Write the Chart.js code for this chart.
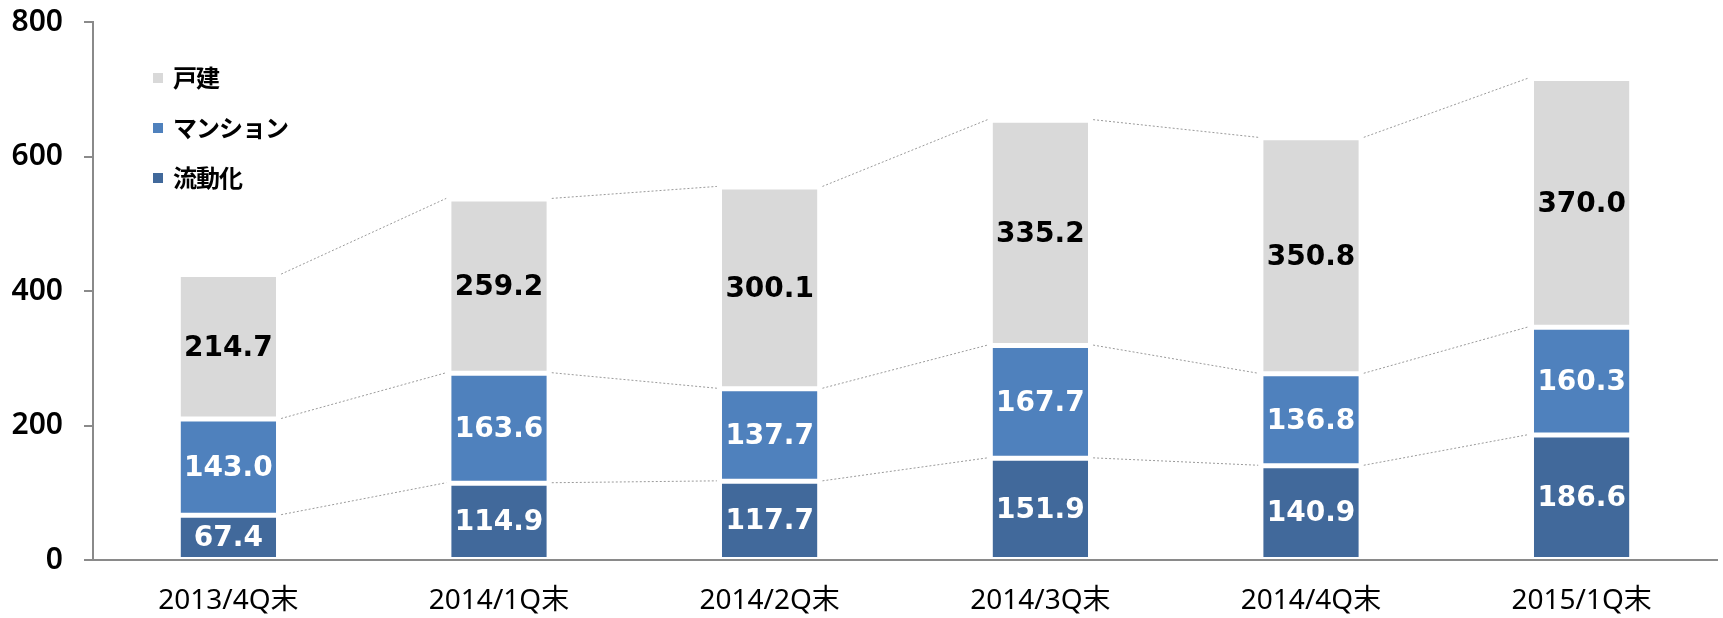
<!DOCTYPE html>
<html>
<head>
<meta charset="utf-8">
<script src="https://cdn.jsdelivr.net/npm/chart.js@4/dist/chart.umd.min.js"></script>
<style>
    html, body { margin: 0; padding: 0; background: #fff; }
    #box { width: 1723px; height: 618px; }
</style>
</head>
<body>
<div id="box"><canvas id="stackChart" width="1723" height="618"></canvas></div>
<script>
const categories = ['2013/4Q末', '2014/1Q末', '2014/2Q末', '2014/3Q末', '2014/4Q末', '2015/1Q末'];
const ryudoka = [67.4, 114.9, 117.7, 151.9, 140.9, 186.6];
const mansion = [143.0, 163.6, 137.7, 167.7, 136.8, 160.3];
const kodate = [214.7, 259.2, 300.1, 335.2, 350.8, 370.0];
const yTicks = [0, 200, 400, 600, 800];

const $ = id => document.getElementById(id);
const labelFont = 'bold 28px "DejaVu Sans", Verdana, sans-serif';

// 区間ごとの点線（各セグメント上端を次の棒へつなぐ）
const connectorPlugin = {
    id: 'connector',
    beforeDatasetsDraw(chart) {
        const ctx = chart.ctx;
        ctx.save();
        ctx.strokeStyle = '#9a9a9a';
        ctx.lineWidth = 1;
        ctx.setLineDash([2, 2]);
        chart.data.datasets.forEach((ds, d) => {
            const pts = chart.getDatasetMeta(d).data;
            for (let i = 0; i < pts.length - 1; i++) {
                const a = pts[i], b = pts[i + 1];
                ctx.beginPath();
                ctx.moveTo(a.x + a.width / 2 + 5, a.y);
                ctx.lineTo(b.x - b.width / 2 - 5, b.y);
                ctx.stroke();
            }
        });
        ctx.restore();
    }
};

// 値ラベル
const valuePlugin = {
    id: 'values',
    afterDatasetsDraw(chart) {
        const ctx = chart.ctx;
        ctx.save();
        ctx.font = labelFont;
        ctx.textAlign = 'center';
        ctx.textBaseline = 'middle';
        chart.data.datasets.forEach((ds, d) => {
            ctx.fillStyle = ds.labelColor;
            chart.getDatasetMeta(d).data.forEach((bar, i) => {
                ctx.fillText(ds.data[i].toFixed(1), bar.x, (bar.y + bar.base) / 2 + 2);
            });
        });
        ctx.restore();
    }
};

// 凡例（グラフ内左上）
const legendPlugin = {
    id: 'innerLegend',
    afterDraw(chart) {
        const ctx = chart.ctx;
        const {left, top} = chart.chartArea;
        const items = chart.data.datasets.slice().reverse();
        ctx.save();
        ctx.font = 'bold 24px "Noto Sans CJK JP", sans-serif';
        ctx.letterSpacing = '-1px';
        ctx.textBaseline = 'middle';
        items.forEach((ds, k) => {
            const cy = top + 56 + k * 50;
            ctx.fillStyle = ds.backgroundColor;
            ctx.fillRect(left + 60, cy - 5, 10, 10);
            ctx.fillStyle = '#000';
            ctx.fillText(ds.label, left + 80, cy);
        });
        ctx.restore();
    }
};

const barStyle = {
    borderColor: '#ffffff',
    borderWidth: {top: 3, bottom: 2, left: 0, right: 0},
    borderSkipped: false,
    barPercentage: 0.353,
    categoryPercentage: 1.0
};

new Chart($('stackChart').getContext('2d'), {
    type: 'bar',
    data: {
        labels: categories,
        datasets: [
            {label: '流動化', data: ryudoka, backgroundColor: '#41699b', labelColor: '#ffffff', ...barStyle},
            {label: 'マンション', data: mansion, backgroundColor: '#4f81bd', labelColor: '#ffffff', ...barStyle},
            {label: '戸建', data: kodate, backgroundColor: '#d9d9d9', labelColor: '#000000', ...barStyle}
        ]
    },
    options: {
        responsive: false,
        animation: false,
        devicePixelRatio: 1,
        layout: {padding: {top: 22, right: 6, left: 0, bottom: 0}},
        plugins: {
            legend: {display: false},
            tooltip: {enabled: false}
        },
        scales: {
            x: {
                stacked: true,
                grid: {drawOnChartArea: false, drawTicks: false},
                border: {color: '#8a8a8a', width: 2},
                ticks: {
                    color: '#000',
                    padding: 24,
                    font: {family: '"Noto Sans", "Noto Sans CJK JP", sans-serif', size: 28}
                },
                afterFit: scale => { scale.height = 58; }
            },
            y: {
                stacked: true,
                min: 0,
                max: 800,
                afterBuildTicks: scale => { scale.ticks = yTicks.map(v => ({value: v})); },
                grid: {drawOnChartArea: false, drawTicks: true, tickLength: 9, color: '#8a8a8a', lineWidth: 2},
                border: {color: '#8a8a8a', width: 2},
                ticks: {
                    color: '#000',
                    padding: 21,
                    font: {family: '"Noto Sans", sans-serif', size: 30, weight: '600'}
                },
                afterFit: scale => {
                    scale.width = 93;
                    scale.paddingTop = 0;
                    scale.paddingBottom = 0;
                }
            }
        }
    },
    plugins: [connectorPlugin, valuePlugin, legendPlugin]
});
</script>
</body>
</html>
